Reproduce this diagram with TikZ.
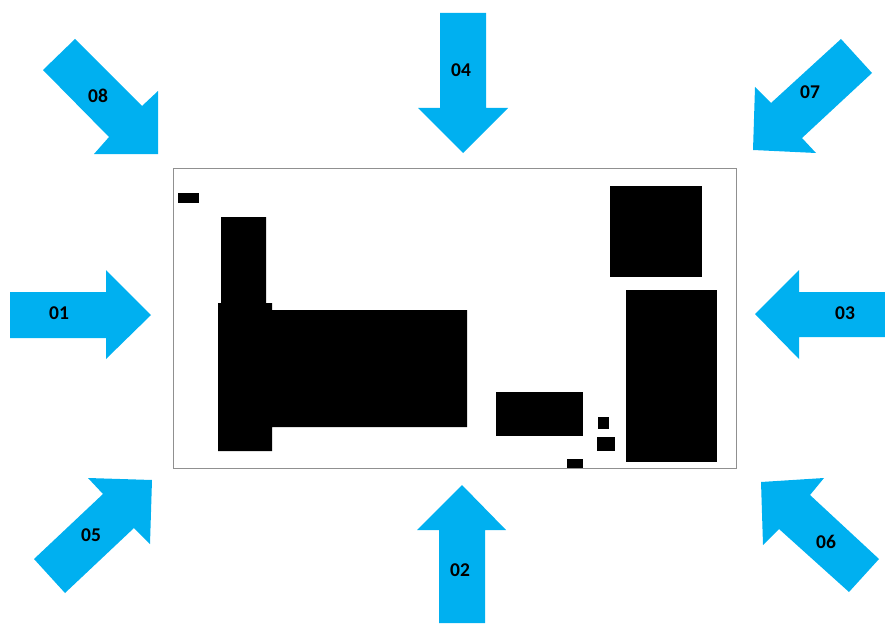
\documentclass[tikz,border=0pt]{standalone}
\usepackage{fontspec}
\setmainfont{Carlito}
\definecolor{arrowblue}{HTML}{00B0F0}
\definecolor{framegray}{HTML}{909090}
\begin{document}
\begin{tikzpicture}[x=1pt,y=-1pt,
  arrowshape/.style={fill=arrowblue,draw=none},
  block/.style={fill=black,draw=none},
  lbl/.style={font=\fontsize{19.5}{21}\selectfont\bfseries,text=black,inner sep=0pt}]
\useasboundingbox (0,0) rectangle (885,623);
% frame
\draw[framegray,line width=1pt] (173,168) rectangle (736,468);
% black blocks
\fill[block] (178,193) rectangle (199,203);
\fill[block] (221,217) -- (266,217) -- (266,303) -- (272,303) -- (272,310) -- (467,310) -- (467,427) -- (272,427) -- (272,451) -- (218,451) -- (218,303) -- (221,303) -- cycle;
\fill[block] (610,186) rectangle (702,277);
\fill[block] (626,290) rectangle (717,462);
\fill[block] (496,392) rectangle (583,436);
\fill[block] (598,417) rectangle (609,429);
\fill[block] (597,437) rectangle (615,451);
\fill[block] (567,459) rectangle (583,468);
% arrows
% 04 down
\fill[arrowshape] (440,13) -- (486,13) -- (486,108) -- (508,108) -- (463,153) -- (418,108) -- (440,108) -- cycle;
% 02 up
\fill[arrowshape] (439,623) -- (485,623) -- (485,530) -- (506,530) -- (462,485) -- (417,530) -- (439,530) -- cycle;
% 01 right
\fill[arrowshape] (10,292) -- (106,292) -- (106,270) -- (151,315) -- (106,359) -- (106,338) -- (10,338) -- cycle;
% 03 left
\fill[arrowshape] (885,292) -- (799,292) -- (799,270) -- (755,314) -- (799,359) -- (799,337) -- (885,337) -- cycle;
% 08
\fill[arrowshape] (75,39) -- (142,106) -- (158,91) -- (158,154) -- (94,154) -- (109,137) -- (43,70) -- cycle;
% 07
\fill[arrowshape] (841,39) -- (872,73) -- (802,138) -- (816,153) -- (753,150) -- (755,87) -- (771,103) -- cycle;
% 05
\fill[arrowshape] (34,559) -- (103,494) -- (88,478) -- (152,480) -- (150,544) -- (134,528) -- (65,593) -- cycle;
% 06
\fill[arrowshape] (761,482) -- (824,478) -- (810,495) -- (879,559) -- (849,592) -- (779,529) -- (763,545) -- cycle;
% labels
\node[lbl] (l01) at (59,313) {01};
\node[lbl] (l02) at (460,570) {02};
\node[lbl] (l03) at (845,313) {03};
\node[lbl] (l04) at (461,70) {04};
\node[lbl] (l05) at (91,535) {05};
\node[lbl] (l06) at (826,542) {06};
\node[lbl] (l07) at (810,92) {07};
\node[lbl] (l08) at (98,96) {08};
\end{tikzpicture}
\end{document}
